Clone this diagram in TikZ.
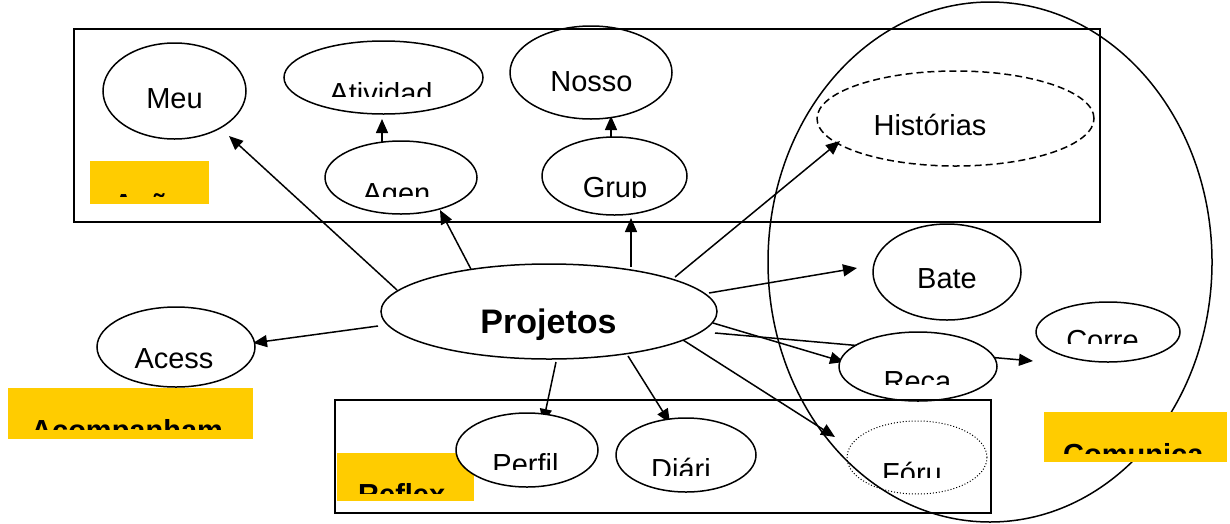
\documentclass[tikz,border=0pt]{standalone}
\usepackage{fontspec}
\setmainfont{Liberation Sans}
\usetikzlibrary{shapes.geometric,arrows.meta,calc}
\definecolor{labyellow}{HTML}{FFCC00}
\newcommand{\cliptxt}[6]{%
  \begin{scope}
    \clip (0,0) rectangle (1230,#5);
    \node[#1] (#2) at (#3,#4) {#6};
  \end{scope}}
\begin{document}
\begin{tikzpicture}[x=1pt,y=-1pt,
  txt/.style={inner sep=0pt, anchor=base, font=\fontsize{29}{31}\selectfont},
  lbl/.style={inner sep=0pt, anchor=base west, font=\fontsize{29}{31}\selectfont\bfseries},
  ell/.style={ellipse, draw, line width=1.5pt, fill=white, inner sep=0pt},
  ybox/.style={fill=labyellow, draw=none, inner sep=0pt, anchor=north west},
  arr/.style={line width=1.5pt, -{Triangle[length=14pt,width=12pt]}},
  frame/.style={draw, line width=2pt, inner sep=0pt, anchor=north west}]
\useasboundingbox (0,0) rectangle (1230,523);

% big communication ellipse
\node[ellipse, draw, line width=1.5pt, inner sep=0pt, minimum width=444pt, minimum height=520pt] (comm) at (990,262) {};

% yellow label boxes
\node[ybox, minimum width=119pt, minimum height=43pt] (acoesbox) at (90,161) {};
\node[ybox, minimum width=245pt, minimum height=51pt] (acompbox) at (8,388) {};
\node[ybox, minimum width=137pt, minimum height=48pt] (reflexbox) at (337,453) {};
\node[ybox, minimum width=183pt, minimum height=50pt] (comunicabox) at (1044,412) {};

% ellipse node positions
\coordinate (projc) at (549,311.5);
\coordinate (meuc) at (174.5,91);
\coordinate (ativc) at (383.5,77.5);
\coordinate (agenc) at (401,177.5);
\coordinate (nossoc) at (591,72.5);
\coordinate (grupc) at (614.5,176);
\coordinate (histc) at (955.5,118.5);
\coordinate (batec) at (947,272);
\coordinate (correc) at (1108,332);
\coordinate (recac) at (918,366.5);
\coordinate (foruc) at (917,457.5);
\coordinate (perfilc) at (527,450);
\coordinate (diaric) at (686,455);
\coordinate (acessc) at (176,347);

% connectors
\draw[arr] ($(projc)+(-152,-21.5)$) -- ($(meuc)+(54.5,45)$);
\draw[arr] ($(projc)+(-76,-38.5)$) -- ($(agenc)+(39,32.5)$);
\draw[arr] ($(projc)+(82,-44.5)$) -- ($(grupc)+(16.5,42)$);
\draw[arr] ($(agenc)+(-19,-35.5)$) -- ($(ativc)+(-1.5,41.5)$);
\draw[arr] ($(grupc)+(-3.5,-39)$) -- ($(nossoc)+(20,43.5)$);
\draw[arr] ($(projc)+(126,-34.5)$) -- ($(histc)+(-115.5,22.5)$);
\draw[arr] ($(projc)+(160,-18.5)$) -- ($(batec)+(-90,-4)$);
\draw[arr] ($(projc)+(164,11.5)$) -- ($(recac)+(-74,-4.5)$);
\draw[arr] ($(projc)+(166,21.5)$) -- ($(correc)+(-75,29)$);
\draw[arr] ($(projc)+(134,28.5)$) -- ($(foruc)+(-82,-20.5)$);
\draw[arr] ($(projc)+(79,44.5)$) -- ($(diaric)+(-16,-32)$);
\draw[arr] ($(projc)+(7,50.5)$) -- ($(perfilc)+(16,-27)$);
\draw[arr] ($(projc)+(-171,14.5)$) -- ($(acessc)+(77,-4)$);

% ellipses
\node[ell, minimum width=336pt, minimum height=95pt] (proj) at (projc) {};
\node[ell, minimum width=143pt, minimum height=96pt] (meu) at (meuc) {};
\node[ell, minimum width=199pt, minimum height=73pt] (ativ) at (ativc) {};
\node[ell, minimum width=152pt, minimum height=73pt] (agen) at (agenc) {};
\node[ell, minimum width=162pt, minimum height=93pt] (nosso) at (nossoc) {};
\node[ell, minimum width=145pt, minimum height=78pt] (grup) at (grupc) {};
\node[ell, fill=none, dash pattern=on 7pt off 4pt, minimum width=277pt, minimum height=95pt] (hist) at (histc) {};
\node[ell, minimum width=148pt, minimum height=96pt] (bate) at (batec) {};
\node[ell, minimum width=144pt, minimum height=60pt] (corre) at (correc) {};
\node[ell, minimum width=158pt, minimum height=69pt] (reca) at (recac) {};
\node[ell, fill=none, line width=1pt, dotted, minimum width=140pt, minimum height=73pt] (foru) at (foruc) {};
\node[ell, minimum width=142pt, minimum height=74pt] (perfil) at (perfilc) {};
\node[ell, minimum width=140pt, minimum height=74pt] (diari) at (diaric) {};
\node[ell, minimum width=158pt, minimum height=80pt] (acess) at (acessc) {};

% frames
\node[frame, minimum width=1026pt, minimum height=193pt] (acoesframe) at (73,28) {};
\node[frame, minimum width=656pt, minimum height=113pt] (reflexframe) at (334,399) {};

% texts
\node[txt] (meut) at (174.5,108) {Meu};
\node[txt] (nossot) at (591.5,91) {Nosso};
\node[txt] (histt) at (930,135) {Histórias};
\node[txt] (batet) at (947,288) {Bate};
\node[txt] (acesst) at (174,368) {Acess};
\node[txt, font=\fontsize{34}{36}\selectfont\bfseries] (projt) at (548.5,333) {Projetos};
\cliptxt{txt}{ativt}{381}{103}{96}{Atividad}
\cliptxt{txt}{agent}{396.5}{203}{196}{Agen}
\cliptxt{txt}{grupt}{615}{197.5}{197}{Grup}
\cliptxt{txt}{corret}{1102.5}{350}{343}{Corre}
\cliptxt{txt}{recat}{917.5}{391}{384}{Reca}
\cliptxt{txt}{forut}{912}{483}{477}{Fóru}
\cliptxt{txt}{perfilt}{525.5}{474}{469}{Perfil}
\cliptxt{txt}{diarit}{681}{479}{475}{Diári}
\cliptxt{lbl}{acoest}{113}{214}{196}{Ações}
\cliptxt{lbl}{acompt}{31}{440}{429}{Acompanham}
\cliptxt{lbl}{reflext}{358}{504}{493}{Reflex}
\cliptxt{lbl}{comunicat}{1063}{464}{453}{Comunica}
\end{tikzpicture}
\end{document}
